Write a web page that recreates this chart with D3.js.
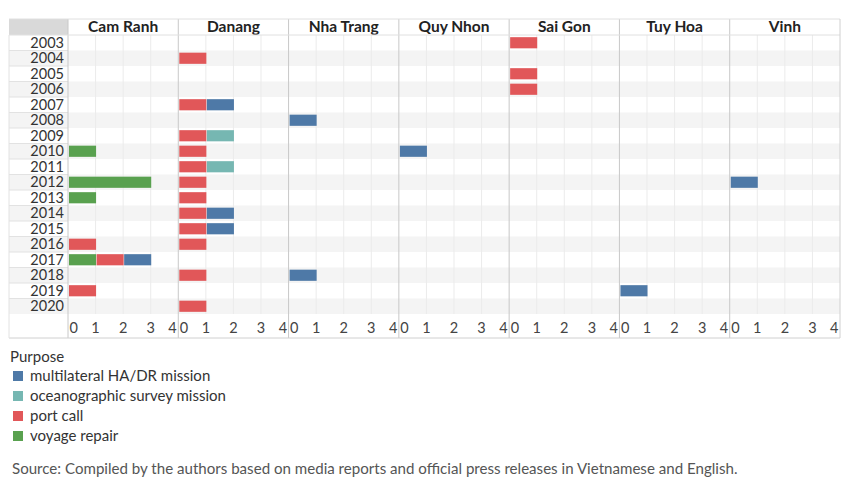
<!DOCTYPE html>
<html>
<head>
<meta charset="utf-8">
<script src="https://cdn.jsdelivr.net/npm/d3@7"></script>
<style>
  body { margin: 0; background: #fff; }
  svg text { font-family: Lato, "Open Sans", sans-serif; }
</style>
</head>
<body>
<svg width="850" height="495"></svg>
<script>
const ports = ['Cam Ranh', 'Danang', 'Nha Trang', 'Quy Nhon', 'Sai Gon', 'Tuy Hoa', 'Vinh']
const years = d3.range(2003, 2021).map(String)
const purposes = ['multilateral HA/DR mission', 'oceanographic survey mission', 'port call', 'voyage repair']
const purposeColors = ['#4e79a7', '#76b7b2', '#e15759', '#59a14f']
const stackOrder = ['voyage repair', 'port call', 'multilateral HA/DR mission', 'oceanographic survey mission']
const xTicks = [0, 1, 2, 3, 4]

// visits: [port, year, purpose, count]
const visits = [
  ['Cam Ranh', '2010', 'voyage repair', 1],
  ['Cam Ranh', '2012', 'voyage repair', 3],
  ['Cam Ranh', '2013', 'voyage repair', 1],
  ['Cam Ranh', '2016', 'port call', 1],
  ['Cam Ranh', '2017', 'voyage repair', 1],
  ['Cam Ranh', '2017', 'port call', 1],
  ['Cam Ranh', '2017', 'multilateral HA/DR mission', 1],
  ['Cam Ranh', '2019', 'port call', 1],
  ['Danang', '2004', 'port call', 1],
  ['Danang', '2007', 'port call', 1],
  ['Danang', '2007', 'multilateral HA/DR mission', 1],
  ['Danang', '2009', 'port call', 1],
  ['Danang', '2009', 'oceanographic survey mission', 1],
  ['Danang', '2010', 'port call', 1],
  ['Danang', '2011', 'port call', 1],
  ['Danang', '2011', 'oceanographic survey mission', 1],
  ['Danang', '2012', 'port call', 1],
  ['Danang', '2013', 'port call', 1],
  ['Danang', '2014', 'port call', 1],
  ['Danang', '2014', 'multilateral HA/DR mission', 1],
  ['Danang', '2015', 'port call', 1],
  ['Danang', '2015', 'multilateral HA/DR mission', 1],
  ['Danang', '2016', 'port call', 1],
  ['Danang', '2018', 'port call', 1],
  ['Danang', '2020', 'port call', 1],
  ['Nha Trang', '2008', 'multilateral HA/DR mission', 1],
  ['Nha Trang', '2018', 'multilateral HA/DR mission', 1],
  ['Quy Nhon', '2010', 'multilateral HA/DR mission', 1],
  ['Sai Gon', '2003', 'port call', 1],
  ['Sai Gon', '2005', 'port call', 1],
  ['Sai Gon', '2006', 'port call', 1],
  ['Tuy Hoa', '2019', 'multilateral HA/DR mission', 1],
  ['Vinh', '2012', 'multilateral HA/DR mission', 1]
]

const svg = d3.select('svg')
const left = 9, labelW = 59, right = 840
const chartTop = 19, headH = 16, rowH = 15.5, axisH = 24
const panelW = (right - left - labelW) / ports.length
const rowsTop = chartTop + headH
const rowsBottom = rowsTop + rowH * years.length

const color = d3.scaleOrdinal().domain(purposes).range(purposeColors)
const px = d3.scaleBand().domain(ports).range([left + labelW, right])
const y = d3.scaleBand().domain(years).range([rowsTop, rowsBottom]).paddingInner(0.28).paddingOuter(0.14)
const yRow = d3.scaleBand().domain(years).range([rowsTop, rowsBottom])
const x = d3.scaleLinear().domain([0, 4]).range([0, panelW])

// header cell over year column
svg.append('rect').attr('x', left).attr('y', chartTop).attr('width', labelW).attr('height', headH).attr('fill', '#d9d9d9')

// row banding
svg.selectAll('.band').data(years.filter((d, i) => i % 2 === 1)).join('rect')
  .attr('x', left).attr('y', (d) => yRow(d))
  .attr('width', right - left).attr('height', yRow.bandwidth())
  .attr('fill', '#f4f4f4')

// row lines in year column
svg.selectAll('.rowline').data(years.slice(1)).join('line')
  .attr('x1', left).attr('x2', left + labelW)
  .attr('y1', (d) => yRow(d)).attr('y2', (d) => yRow(d))
  .attr('stroke', '#e2e2e2')

const panels = svg.selectAll('.panel').data(ports).join('g')
  .attr('class', 'panel')
  .attr('transform', (d) => `translate(${px(d)},0)`)

// gridlines
panels.selectAll('.grid').data([1, 2, 3]).join('line')
  .attr('x1', (d) => x(d)).attr('x2', (d) => x(d))
  .attr('y1', rowsTop).attr('y2', rowsBottom)
  .attr('stroke', '#ebebeb')

// bars
panels.each(function (port) {
  const g = d3.select(this)
  years.forEach((yr) => {
    let x0 = 0
    stackOrder.forEach((p) => {
      const v = visits.find((d) => d[0] === port && d[1] === yr && d[2] === p)
      if (!v) return
      g.append('rect')
        .attr('x', x(x0) + 1).attr('y', y(yr))
        .attr('width', x(x0 + v[3]) - x(x0) - 0.5).attr('height', y.bandwidth())
        .attr('fill', color(p))
      x0 += v[3]
    })
  })
})

// panel titles
panels.append('text')
  .attr('x', panelW / 2).attr('y', chartTop + 13)
  .attr('text-anchor', 'middle')
  .attr('font-size', 15.5).attr('font-weight', 'bold').attr('fill', '#222')
  .text((d) => d)

// axis ticks
panels.selectAll('.tick').data(xTicks).join('text')
  .attr('x', (d) => d === 0 ? x(d) + 1.5 : d === 4 ? x(d) - 1.5 : x(d))
  .attr('y', rowsBottom + 19)
  .attr('text-anchor', (d) => d === 0 ? 'start' : d === 4 ? 'end' : 'middle')
  .attr('font-size', 14.5).attr('fill', '#444')
  .text((d) => d)

// panel separators
panels.append('line')
  .attr('x1', 0).attr('x2', 0).attr('y1', chartTop).attr('y2', rowsBottom + axisH)
  .attr('stroke', '#c8c8c8')

// frame
const frame = '#d0d0d0'
svg.append('line').attr('x1', left).attr('x2', right).attr('y1', rowsTop).attr('y2', rowsTop).attr('stroke', '#e0e0e0')
svg.append('line').attr('x1', left).attr('x2', right).attr('y1', chartTop).attr('y2', chartTop).attr('stroke', '#e0e0e0')
svg.append('line').attr('x1', left).attr('x2', right).attr('y1', rowsBottom + axisH).attr('y2', rowsBottom + axisH).attr('stroke', frame)
svg.append('line').attr('x1', right).attr('x2', right).attr('y1', chartTop).attr('y2', rowsBottom + axisH).attr('stroke', frame)
svg.append('line').attr('x1', left).attr('x2', left).attr('y1', rowsTop).attr('y2', rowsBottom + axisH).attr('stroke', '#e2e2e2')

// year labels
svg.selectAll('.year').data(years).join('text')
  .attr('x', left + labelW - 4).attr('y', (d) => yRow(d) + rowH / 2 + 5)
  .attr('text-anchor', 'end')
  .attr('font-size', 14.5).attr('fill', '#333')
  .text((d) => d)

// legend
const legend = svg.append('g').attr('transform', 'translate(10,0)')
legend.append('text').attr('x', 0).attr('y', 362).attr('font-size', 15).attr('fill', '#333').text('Purpose')
const items = legend.selectAll('.item').data(purposes).join('g')
  .attr('transform', (d, i) => `translate(0,${376 + i * 20})`)
items.append('rect').attr('x', 3).attr('y', -5).attr('width', 10).attr('height', 10).attr('fill', (d) => color(d))
items.append('text').attr('x', 20).attr('y', 5).attr('font-size', 15).attr('fill', '#333').text((d) => d)

svg.append('text').attr('x', 12).attr('y', 474)
  .attr('font-size', 15.1).attr('fill', '#555')
  .text('Source: Compiled by the authors based on media reports and official press releases in Vietnamese and English.')
</script>
</body>
</html>
